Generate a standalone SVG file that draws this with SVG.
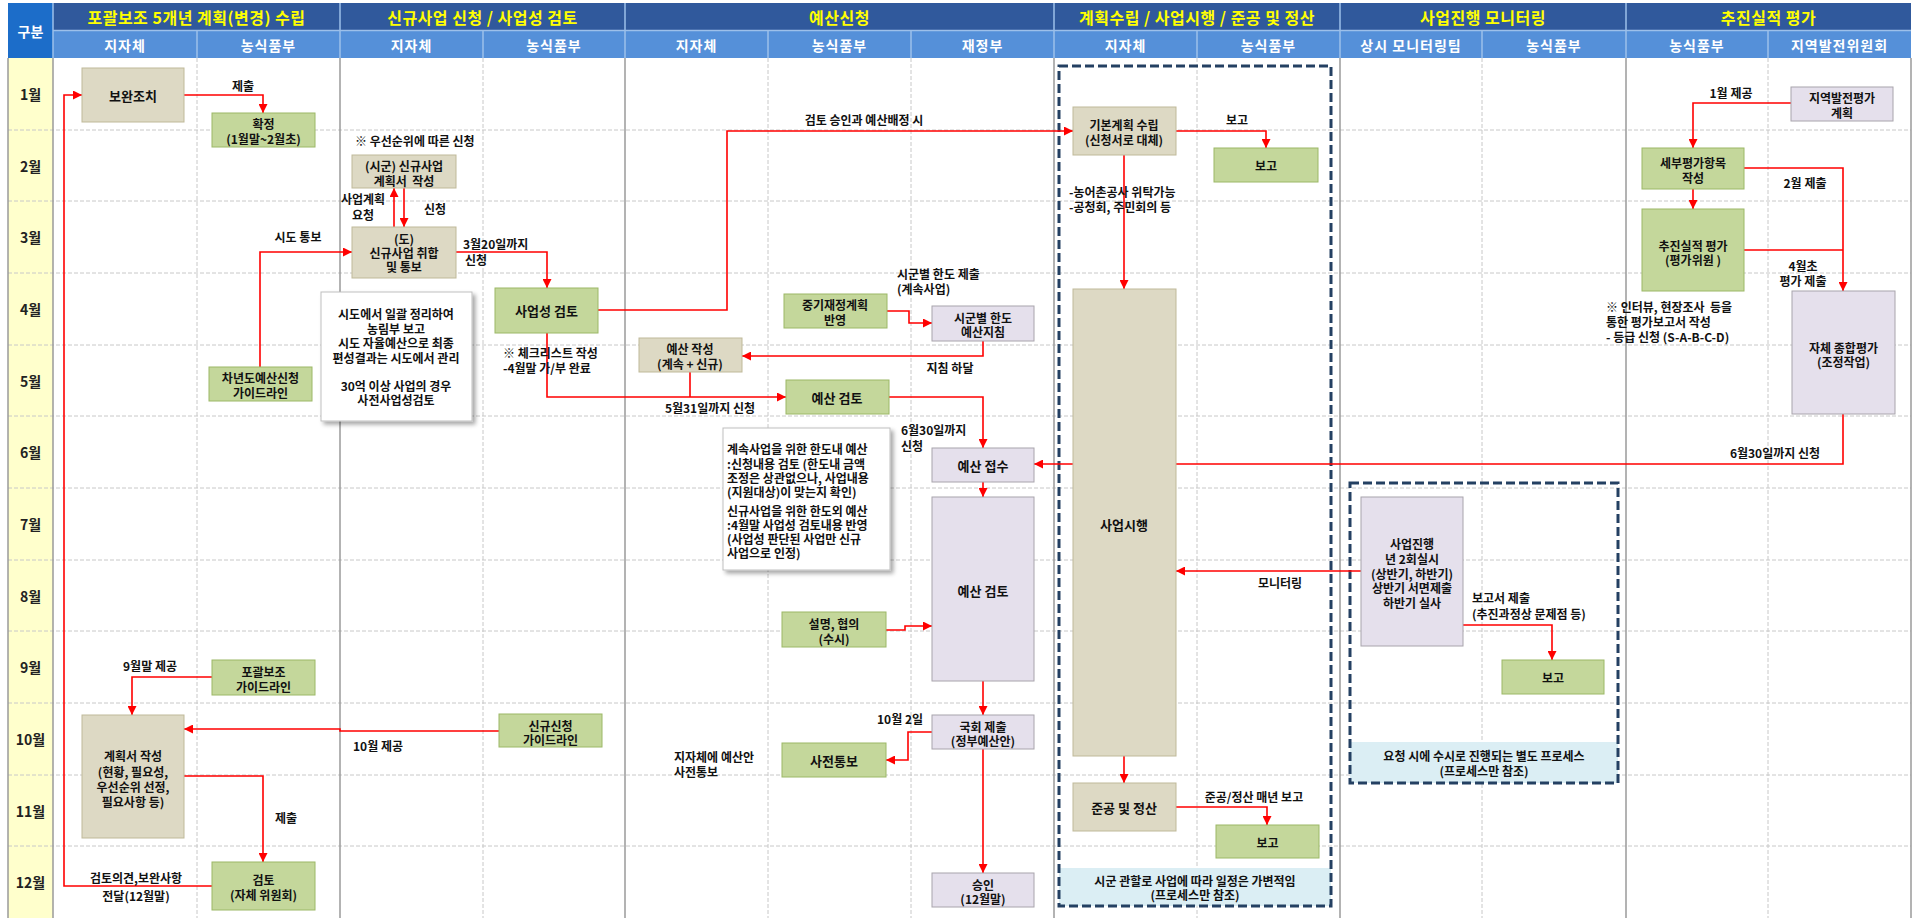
<svg xmlns="http://www.w3.org/2000/svg" width="1922" height="918" viewBox="0 0 1922 918">
<style>
text{font-family:"Noto Sans CJK KR","Noto Sans",sans-serif;font-weight:bold;dominant-baseline:central;fill:#111;font-size:12px}
.c{text-anchor:middle}
.s{text-anchor:start}
.h1{fill:#FFFF00;font-size:16px;text-anchor:middle;letter-spacing:0.5px}
.h2{fill:#FFFFFF;font-size:14px;text-anchor:middle;letter-spacing:1px}
.mo{font-size:14px;text-anchor:middle;fill:#222}
.bt{font-size:13px;text-anchor:middle}
.tan{fill:#DDD9C4;stroke:#BFB999;stroke-width:1}
.grn{fill:#C4D79B;stroke:#9CB866;stroke-width:1}
.lav{fill:#E5E0EC;stroke:#A8A4AC;stroke-width:1}
.note{fill:#FFFFFF;stroke:#BFBFBF;stroke-width:1}
.dbox{fill:none;stroke:#244062;stroke-width:3;stroke-dasharray:9 4}
.lbl{fill:#DBEEF4;stroke:none}
.hd{stroke:#C8C8C8;stroke-width:1;stroke-dasharray:4 2}
.vd{stroke:#C8C8C8;stroke-width:1;stroke-dasharray:4 2}
.vs{stroke:#9A9A9A;stroke-width:1.5}
.cn path{fill:none;stroke:#FF0000;stroke-width:1.6}
</style>
<defs>
<marker id="ah" viewBox="0 0 10 10" refX="10" refY="5" markerWidth="9" markerHeight="9" markerUnits="userSpaceOnUse" orient="auto"><path d="M0,0 L10,5 L0,10 z" fill="#FF0000"/></marker>
<filter id="sh" x="-10%" y="-10%" width="130%" height="130%"><feDropShadow dx="3" dy="3" stdDeviation="2" flood-color="#000" flood-opacity="0.35"/></filter>
</defs>
<rect x="0" y="0" width="1922" height="918" fill="#FFFFFF"/>

<g id="grid">
<rect x="8" y="58" width="45" height="860" fill="#FFFFCC"/>
<g>
<line class="hd" x1="8" y1="130" x2="1911" y2="130"/>
<line class="hd" x1="8" y1="201" x2="1911" y2="201"/>
<line class="hd" x1="8" y1="273" x2="1911" y2="273"/>
<line class="hd" x1="8" y1="345" x2="1911" y2="345"/>
<line class="hd" x1="8" y1="416" x2="1911" y2="416"/>
<line class="hd" x1="8" y1="488" x2="1911" y2="488"/>
<line class="hd" x1="8" y1="560" x2="1911" y2="560"/>
<line class="hd" x1="8" y1="631" x2="1911" y2="631"/>
<line class="hd" x1="8" y1="703" x2="1911" y2="703"/>
<line class="hd" x1="8" y1="775" x2="1911" y2="775"/>
<line class="hd" x1="8" y1="846" x2="1911" y2="846"/>
</g>
<g>
<line class="vd" x1="197" y1="58" x2="197" y2="918"/>
<line class="vd" x1="483" y1="58" x2="483" y2="918"/>
<line class="vd" x1="768" y1="58" x2="768" y2="918"/>
<line class="vd" x1="911" y1="58" x2="911" y2="918"/>
<line class="vd" x1="1197" y1="58" x2="1197" y2="918"/>
<line class="vd" x1="1482" y1="58" x2="1482" y2="918"/>
<line class="vd" x1="1768" y1="58" x2="1768" y2="918"/>
</g>
<g>
<line class="vs" x1="8" y1="58" x2="8" y2="918"/>
<line class="vs" x1="53" y1="58" x2="53" y2="918"/>
<line class="vs" x1="340" y1="58" x2="340" y2="918"/>
<line class="vs" x1="625" y1="58" x2="625" y2="918"/>
<line class="vs" x1="1054" y1="58" x2="1054" y2="918"/>
<line class="vs" x1="1340" y1="58" x2="1340" y2="918"/>
<line class="vs" x1="1626" y1="58" x2="1626" y2="918"/>
<line class="vs" x1="1911" y1="58" x2="1911" y2="918"/>
</g>
</g>

<g id="header">
<rect x="8" y="3" width="45" height="55" fill="#1C6DC9"/>
<text x="30.5" y="31" class="h2" style="letter-spacing:0">구분</text>
<rect x="53" y="3" width="1858" height="27" fill="#30599C"/>
<rect x="53" y="31" width="1858" height="27" fill="#5590D9"/>
<g stroke="#9DC0EA" stroke-width="1.5">
<line x1="53" y1="30.5" x2="1911" y2="30.5"/>
<line x1="53" y1="3" x2="53" y2="58"/>
<line x1="340" y1="3" x2="340" y2="58"/>
<line x1="625" y1="3" x2="625" y2="58"/>
<line x1="1054" y1="3" x2="1054" y2="58"/>
<line x1="1340" y1="3" x2="1340" y2="58"/>
<line x1="1626" y1="3" x2="1626" y2="58"/>
<line x1="197" y1="31" x2="197" y2="58"/>
<line x1="483" y1="31" x2="483" y2="58"/>
<line x1="768" y1="31" x2="768" y2="58"/>
<line x1="911" y1="31" x2="911" y2="58"/>
<line x1="1197" y1="31" x2="1197" y2="58"/>
<line x1="1482" y1="31" x2="1482" y2="58"/>
<line x1="1768" y1="31" x2="1768" y2="58"/>
</g>
<text x="196.5" y="17" class="h1">포괄보조 5개년 계획(변경) 수립</text>
<text x="482.5" y="17" class="h1">신규사업 신청 / 사업성 검토</text>
<text x="839.5" y="17" class="h1">예산신청</text>
<text x="1197" y="17" class="h1">계획수립 / 사업시행 / 준공 및 정산</text>
<text x="1483" y="17" class="h1">사업진행 모니터링</text>
<text x="1768.5" y="17" class="h1">추진실적 평가</text>
<text x="125" y="45" class="h2">지자체</text>
<text x="268.5" y="45" class="h2">농식품부</text>
<text x="411.5" y="45" class="h2">지자체</text>
<text x="554" y="45" class="h2">농식품부</text>
<text x="696.5" y="45" class="h2">지자체</text>
<text x="839.5" y="45" class="h2">농식품부</text>
<text x="982.5" y="45" class="h2">재정부</text>
<text x="1125.5" y="45" class="h2">지자체</text>
<text x="1268.5" y="45" class="h2">농식품부</text>
<text x="1411" y="45" class="h2">상시 모니터링팀</text>
<text x="1554" y="45" class="h2">농식품부</text>
<text x="1697" y="45" class="h2">농식품부</text>
<text x="1839.5" y="45" class="h2">지역발전위원회</text>
</g>

<g id="months">
<text x="30.5" y="94" class="mo">1월</text>
<text x="30.5" y="166" class="mo">2월</text>
<text x="30.5" y="237" class="mo">3월</text>
<text x="30.5" y="309" class="mo">4월</text>
<text x="30.5" y="381" class="mo">5월</text>
<text x="30.5" y="452" class="mo">6월</text>
<text x="30.5" y="524" class="mo">7월</text>
<text x="30.5" y="596" class="mo">8월</text>
<text x="30.5" y="667" class="mo">9월</text>
<text x="30.5" y="739" class="mo">10월</text>
<text x="30.5" y="811" class="mo">11월</text>
<text x="30.5" y="882" class="mo">12월</text>
</g>

<g id="group_planning">
<rect class="lbl" x="1059" y="868" width="272" height="38"/>
<rect class="dbox" x="1059" y="66" width="272" height="840"/>
<text x="1195" y="880" class="c">시군 관할로 사업에 따라 일정은 가변적임</text>
<text x="1195" y="894" class="c">(프로세스만 참조)</text>
</g>
<g id="group_monitoring">
<rect class="lbl" x="1350" y="742" width="268" height="41"/>
<rect class="dbox" x="1350" y="483" width="268" height="300"/>
<text x="1484" y="755" class="c">요청 시에 수시로 진행되는 별도 프로세스</text>
<text x="1484" y="770" class="c">(프로세스만 참조)</text>
</g>

<g id="connectors" class="cn">
<path d="M184,95 H263 V113" marker-end="url(#ah)"/>
<path d="M394,227 V188" marker-end="url(#ah)"/>
<path d="M404,188 V227" marker-end="url(#ah)"/>
<path d="M260,367 V252 H352" marker-end="url(#ah)"/>
<path d="M456,252 H547 V288" marker-end="url(#ah)"/>
<path d="M598,310 H727 V131 H1073" marker-end="url(#ah)"/>
<path d="M547,333 V397 H786" marker-end="url(#ah)"/>
<path d="M690,372 V397"/>
<path d="M887,311 H909 V323 H932" marker-end="url(#ah)"/>
<path d="M983,341 V356 H742" marker-end="url(#ah)"/>
<path d="M889,397 H983 V448" marker-end="url(#ah)"/>
<path d="M983,482 V497" marker-end="url(#ah)"/>
<path d="M1843,414 V464 H1034" marker-end="url(#ah)"/>
<path d="M886,630 H905 V626 H932" marker-end="url(#ah)"/>
<path d="M983,681 V715" marker-end="url(#ah)"/>
<path d="M932,732 H908 V760 H886" marker-end="url(#ah)"/>
<path d="M983,749 V873" marker-end="url(#ah)"/>
<path d="M499,731 H340 V729 H184" marker-end="url(#ah)"/>
<path d="M212,677 H132 V715" marker-end="url(#ah)"/>
<path d="M184,776 H263 V862" marker-end="url(#ah)"/>
<path d="M212,886 H64 V95 H82" marker-end="url(#ah)"/>
<path d="M1176,131 H1266 V148" marker-end="url(#ah)"/>
<path d="M1124,155 V289" marker-end="url(#ah)"/>
<path d="M1124,756 V783" marker-end="url(#ah)"/>
<path d="M1176,807 H1267 V825" marker-end="url(#ah)"/>
<path d="M1361,571 H1176" marker-end="url(#ah)"/>
<path d="M1463,625 H1552 V660" marker-end="url(#ah)"/>
<path d="M1791,103 H1693 V148" marker-end="url(#ah)"/>
<path d="M1693,189 V209" marker-end="url(#ah)"/>
<path d="M1744,168 H1843 V291" marker-end="url(#ah)"/>
<path d="M1744,250 H1843"/>
</g>

<g id="labels">
<text x="243" y="85" class="c">제출</text>
<text x="355" y="140" class="s">※ 우선순위에 따른 신청</text>
<text x="363" y="198" class="c">사업계획</text>
<text x="363" y="214" class="c">요청</text>
<text x="435" y="208" class="c">신청</text>
<text x="298" y="236" class="c">시도 통보</text>
<text x="463" y="243" class="s">3월20일까지</text>
<text x="465" y="259" class="s">신청</text>
<text x="864" y="119" class="c">검토 승인과 예산배정 시</text>
<text x="503" y="352" class="s">※ 체크리스트 작성</text>
<text x="503" y="367" class="s">-4월말 가/부 완료</text>
<text x="710" y="407" class="c">5월31일까지 신청</text>
<text x="897" y="273" class="s">시군별 한도 제출</text>
<text x="897" y="288" class="s">(계속사업)</text>
<text x="950" y="367" class="c">지침 하달</text>
<text x="901" y="429" class="s">6월30일까지</text>
<text x="901" y="445" class="s">신청</text>
<text x="1775" y="452" class="c">6월30일까지 신청</text>
<text x="900" y="718" class="c">10월 2일</text>
<text x="674" y="756" class="s">지자체에 예산안</text>
<text x="674" y="771" class="s">사전통보</text>
<text x="378" y="745" class="c">10월 제공</text>
<text x="150" y="665" class="c">9월말 제공</text>
<text x="286" y="817" class="c">제출</text>
<text x="136" y="877" class="c">검토의견,보완사항</text>
<text x="136" y="895" class="c">전달(12월말)</text>
<text x="1237" y="119" class="c">보고</text>
<text x="1069" y="191" class="s">-농어촌공사 위탁가능</text>
<text x="1069" y="206" class="s">-공청회, 주민회의 등</text>
<text x="1280" y="582" class="c">모니터링</text>
<text x="1254" y="796" class="c">준공/정산 매년 보고</text>
<text x="1472" y="597" class="s">보고서 제출</text>
<text x="1472" y="613" class="s">(추진과정상 문제점 등)</text>
<text x="1731" y="92" class="c">1월 제공</text>
<text x="1805" y="182" class="c">2월 제출</text>
<text x="1803" y="265" class="c">4월초</text>
<text x="1803" y="280" class="c">평가 제출</text>
<text x="1606" y="306" class="s" xml:space="preserve">※ 인터뷰, 현장조사  등을</text>
<text x="1606" y="321" class="s">통한 평가보고서 작성</text>
<text x="1606" y="336" class="s">- 등급 신청 (S-A-B-C-D)</text>
</g>

<g id="n_bowan"><rect class="tan" x="82" y="68" width="102" height="54"/><text x="133" y="95" class="bt">보완조치</text></g>
<g id="n_hwakjeong"><rect class="grn" x="212" y="113" width="103" height="34"/><text x="263.5" y="123" class="c">확정</text><text x="263.5" y="138" class="c">(1월말~2월초)</text></g>
<g id="n_chanyeon_guide"><rect class="grn" x="209" y="367" width="103" height="34"/><text x="260.5" y="377" class="c">차년도예산신청</text><text x="260.5" y="392" class="c">가이드라인</text></g>
<g id="n_pogwal_guide"><rect class="grn" x="212" y="660" width="103" height="35"/><text x="263.5" y="671" class="c">포괄보조</text><text x="263.5" y="686" class="c">가이드라인</text></g>
<g id="n_gyehoekseo"><rect class="tan" x="82" y="715" width="102" height="123"/><text x="133" y="755" class="c">계획서 작성</text><text x="133" y="771" class="c">(현황, 필요성,</text><text x="133" y="786" class="c">우선순위 선정,</text><text x="133" y="801" class="c">필요사항 등)</text></g>
<g id="n_gomto_self"><rect class="grn" x="212" y="862" width="103" height="48"/><text x="263.5" y="879" class="c">검토</text><text x="263.5" y="894" class="c">(자체 위원회)</text></g>

<g id="n_sigun_plan"><rect class="tan" x="352" y="155" width="104" height="33"/><text x="404" y="165" class="c">(시군) 신규사업</text><text x="404" y="180" class="c" xml:space="preserve">계획서  작성</text></g>
<g id="n_do"><rect class="tan" x="352" y="227" width="104" height="51"/><text x="404" y="238" class="c">(도)</text><text x="404" y="252" class="c">신규사업 취합</text><text x="404" y="266" class="c">및 통보</text></g>
<g id="n_note1"><rect class="note" x="321" y="292" width="151" height="129" filter="url(#sh)"/><text x="396" y="313" class="c">시도에서 일괄 정리하여</text><text x="396" y="328" class="c">농림부 보고</text><text x="396" y="342" class="c">시도 자율예산으로 최종</text><text x="396" y="357" class="c">편성결과는 시도에서 관리</text><text x="396" y="385" class="c">30억 이상 사업의 경우</text><text x="396" y="399" class="c">사전사업성검토</text></g>
<g id="n_saeopseong"><rect class="grn" x="495" y="288" width="103" height="45"/><text x="546.5" y="310" class="bt">사업성 검토</text></g>
<g id="n_singyu_guide"><rect class="grn" x="499" y="714" width="103" height="33"/><text x="550.5" y="725" class="c">신규신청</text><text x="550.5" y="739" class="c">가이드라인</text></g>

<g id="n_yesan_jakseong"><rect class="tan" x="639" y="338" width="103" height="34"/><text x="690" y="348" class="c">예산 작성</text><text x="690" y="363" class="c">(계속 + 신규)</text></g>
<g id="n_junggi"><rect class="grn" x="784" y="294" width="103" height="34"/><text x="835" y="304" class="c">중기재정계획</text><text x="835" y="319" class="c">반영</text></g>
<g id="n_yesan_gomto_m"><rect class="grn" x="786" y="380" width="103" height="34"/><text x="837" y="397" class="bt">예산 검토</text></g>
<g id="n_note2"><rect class="note" x="723" y="428" width="167" height="142" filter="url(#sh)"/><text x="727" y="448" class="s">계속사업을 위한 한도내 예산</text><text x="727" y="463" class="s">:신청내용 검토 (한도내 금액</text><text x="727" y="477" class="s">조정은 상관없으나, 사업내용</text><text x="727" y="491" class="s">(지원대상)이 맞는지 확인)</text><text x="727" y="510" class="s">신규사업을 위한 한도외 예산</text><text x="727" y="524" class="s">:4월말 사업성 검토내용 반영</text><text x="727" y="538" class="s">(사업성 판단된 사업만 신규</text><text x="727" y="552" class="s">사업으로 인정)</text></g>
<g id="n_seolmyeong"><rect class="grn" x="782" y="612" width="104" height="35"/><text x="834" y="623" class="c">설명, 협의</text><text x="834" y="638" class="c">(수시)</text></g>
<g id="n_sajeon"><rect class="grn" x="782" y="743" width="104" height="34"/><text x="834" y="760" class="bt">사전통보</text></g>
<g id="n_sigun_hando"><rect class="lav" x="932" y="306" width="102" height="35"/><text x="983" y="317" class="c">시군별 한도</text><text x="983" y="331" class="c">예산지침</text></g>
<g id="n_yesan_jeopsu"><rect class="lav" x="932" y="448" width="102" height="34"/><text x="983" y="465" class="bt">예산 접수</text></g>
<g id="n_yesan_gomto_f"><rect class="lav" x="932" y="497" width="102" height="184"/><text x="983" y="590" class="bt">예산 검토</text></g>
<g id="n_gukhoe"><rect class="lav" x="932" y="715" width="102" height="34"/><text x="983" y="726" class="c">국회 제출</text><text x="983" y="740" class="c">(정부예산안)</text></g>
<g id="n_seungin"><rect class="lav" x="932" y="873" width="102" height="34"/><text x="983" y="884" class="c">승인</text><text x="983" y="898" class="c">(12월말)</text></g>

<g id="n_gibon"><rect class="tan" x="1073" y="107" width="103" height="48"/><text x="1124" y="124" class="c">기본계획 수립</text><text x="1124" y="139" class="c">(신청서로 대체)</text></g>
<g id="n_bogo1"><rect class="grn" x="1214" y="148" width="104" height="34"/><text x="1266" y="165" class="c">보고</text></g>
<g id="n_saeop_sihaeng"><rect class="tan" x="1073" y="289" width="103" height="467"/><text x="1124" y="524" class="bt">사업시행</text></g>
<g id="n_jungong"><rect class="tan" x="1073" y="783" width="103" height="48"/><text x="1124" y="807" class="bt">준공 및 정산</text></g>
<g id="n_bogo2"><rect class="grn" x="1216" y="825" width="103" height="33"/><text x="1267.5" y="842" class="c">보고</text></g>

<g id="n_saeop_jinhaeng"><rect class="lav" x="1361" y="497" width="102" height="149"/><text x="1412" y="543" class="c">사업진행</text><text x="1412" y="558" class="c">년 2회실시</text><text x="1412" y="573" class="c">(상반기, 하반기)</text><text x="1412" y="587" class="c">상반기 서면제출</text><text x="1412" y="602" class="c">하반기 실사</text></g>
<g id="n_bogo3"><rect class="grn" x="1502" y="660" width="102" height="34"/><text x="1553" y="677" class="c">보고</text></g>

<g id="n_jiyeok"><rect class="lav" x="1791" y="87" width="102" height="34"/><text x="1842" y="97" class="c">지역발전평가</text><text x="1842" y="112" class="c">계획</text></g>
<g id="n_sebu"><rect class="grn" x="1642" y="148" width="102" height="41"/><text x="1693" y="162" class="c">세부평가항목</text><text x="1693" y="177" class="c">작성</text></g>
<g id="n_chujin"><rect class="grn" x="1642" y="209" width="102" height="82"/><text x="1693" y="245" class="c">추진실적 평가</text><text x="1693" y="259" class="c">(평가위원 )</text></g>
<g id="n_jache"><rect class="lav" x="1792" y="291" width="103" height="123"/><text x="1843.5" y="347" class="c">자체 종합평가</text><text x="1843.5" y="361" class="c">(조정작업)</text></g>
</svg>
